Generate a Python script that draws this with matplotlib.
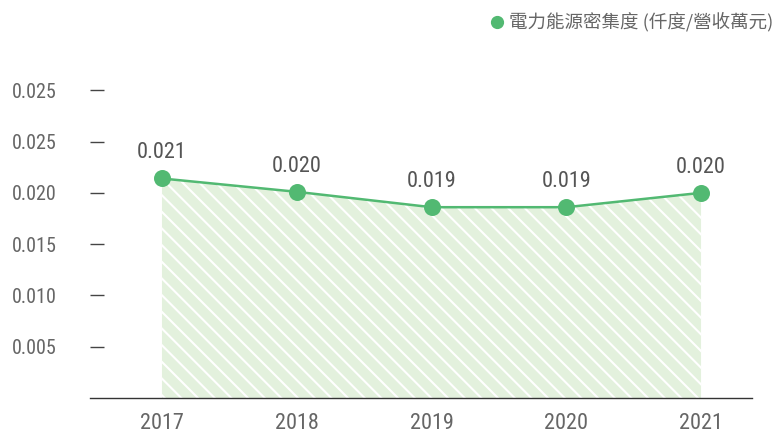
import matplotlib
matplotlib.use("Agg")
import matplotlib.pyplot as plt
from matplotlib.lines import Line2D
from matplotlib import font_manager

# 電力能源密集度 2017-2021
years = ["2017", "2018", "2019", "2020", "2021"]
intensity = [0.0214, 0.0201, 0.0186, 0.0186, 0.0200]
ytick_vals = [0.005, 0.010, 0.015, 0.020, 0.025, 0.030]
ytick_text = ["0.005", "0.010", "0.015", "0.020", "0.025", "0.025"]
legend_text = "電力能源密集度 (仟度/營收萬元)"

names = {f.name for f in font_manager.fontManager.ttflist}
num_font = "Roboto"
for cand in ["Roboto Condensed", "Liberation Sans Narrow", "DejaVu Sans Condensed"]:
    if cand in names:
        num_font = cand
        break

green = "#52b972"
fill_green = "#e3f1dd"
gray = "#666666"

plt.rcParams["hatch.linewidth"] = 1.5
plt.rcParams["hatch.color"] = "white"

fig = plt.figure(figsize=(7.82, 4.38), dpi=100)
ax = fig.add_axes([90 / 782, 1 - 398 / 438, 662 / 782, 318 / 438])

x = list(range(len(years)))
ax.fill_between(x, intensity, 0, facecolor=fill_green, edgecolor="white",
                hatch="\\\\", linewidth=0, zorder=1)
ax.plot(x, intensity, color=green, linewidth=1.8, zorder=3)
ax.scatter(x, intensity, s=150, color=green, zorder=4, linewidths=0)

for xi, v in zip(x, intensity):
    ax.annotate(f"{v:.3f}", (xi, v), xytext=(0, 11), textcoords="offset points",
                ha="center", va="bottom", fontsize=16, color="#555555",
                family=num_font)

ax.set_xlim(-0.534, 4.378)
ax.set_ylim(0, 0.031)
ax.set_xticks(x)
ax.set_xticklabels(years, family=num_font, fontsize=16, color=gray)
ax.set_yticks(ytick_vals)
ax.set_yticklabels(ytick_text, family=num_font, fontsize=14.5, color=gray)
ax.tick_params(axis="y", direction="in", length=10, width=1, color="#444444", pad=24)
ax.tick_params(axis="x", length=0, pad=11)

for s in ["top", "right", "left"]:
    ax.spines[s].set_visible(False)
ax.spines["bottom"].set_color("#333333")
ax.spines["bottom"].set_linewidth(1)

fig.add_artist(Line2D([497 / 782], [1 - 22 / 438], marker="o", markersize=8.5,
                      color=green, linestyle="none", transform=fig.transFigure))
fig.text(509 / 782, 1 - 22 / 438, legend_text, ha="left", va="center",
         fontsize=13.3, color=gray, family=["Noto Sans CJK TC", "DejaVu Sans"])

fig.savefig("out.png", dpi=100)
